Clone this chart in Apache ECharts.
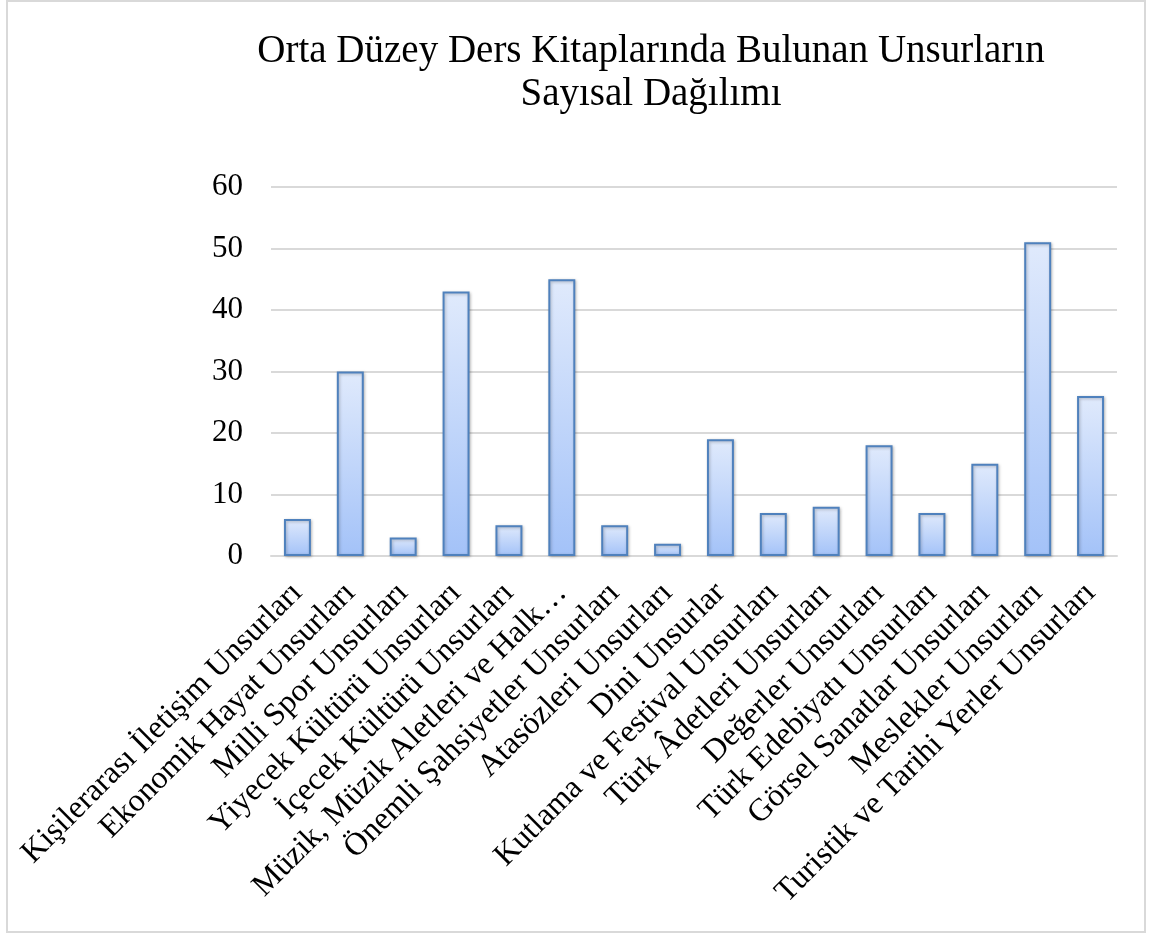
<!DOCTYPE html>
<html>
<head>
<meta charset="utf-8">
<script src="https://cdn.jsdelivr.net/npm/echarts@6/dist/echarts.min.js"></script>
<style>
html,body{margin:0;padding:0;background:#fff;}
#c{width:1150px;height:936px;}
</style>
</head>
<body>
<div id="c"></div>
<script>
const categories = [
  "Kişilerarası İletişim Unsurları",
  "Ekonomik Hayat Unsurları",
  "Milli Spor Unsurları",
  "Yiyecek Kültürü Unsurları",
  "İçecek Kültürü Unsurları",
  "Müzik, Müzik Aletleri ve Halk…",
  "Önemli Şahsiyetler Unsurları",
  "Atasözleri Unsurları",
  "Dini Unsurlar",
  "Kutlama ve Festival Unsurları",
  "Türk Âdetleri Unsurları",
  "Değerler Unsurları",
  "Türk Edebiyatı Unsurları",
  "Görsel Sanatlar Unsurları",
  "Meslekler Unsurları",
  "Turistik ve Tarihi Yerler Unsurları"
];
const values = [6, 30, 3, 43, 5, 45, 5, 2, 19, 7, 8, 18, 7, 15, 51, 26];
const titleText = "Orta Düzey Ders Kitaplarında Bulunan Unsurların\nSayısal Dağılımı";

const serif = "'Liberation Serif', 'DejaVu Serif', serif";
const chart = echarts.init(document.getElementById('c'), null, {renderer: 'canvas'});
chart.setOption({
  backgroundColor: '#ffffff',
  animation: false,
  graphic: [{
    type: 'rect',
    shape: {x: 7, y: 1, width: 1138, height: 931},
    style: {fill: 'none', stroke: '#d9d9d9', lineWidth: 2},
    silent: true
  }],
  title: {
    text: titleText,
    left: 646,
    textAlign: 'center',
    top: 25,
    textStyle: {
      fontFamily: serif,
      fontSize: 39,
      fontWeight: 'normal',
      color: '#000',
      lineHeight: 43
    }
  },
  grid: {left: 271, right: 33, top: 187, bottom: 380, containLabel: false},
  xAxis: {
    type: 'category',
    data: categories,
    axisLine: {show: true, lineStyle: {color: '#d9d9d9', width: 2}},
    axisTick: {show: false},
    axisLabel: {
      interval: 0,
      rotate: 45,
      margin: 32,
      fontFamily: serif,
      fontSize: 32,
      color: '#000'
    }
  },
  yAxis: {
    type: 'value',
    min: 0,
    max: 60,
    interval: 10,
    axisLine: {show: false},
    axisTick: {show: false},
    splitLine: {lineStyle: {color: '#d9d9d9', width: 2}},
    axisLabel: {
      margin: 28,
      fontFamily: serif,
      fontSize: 31,
      color: '#000'
    }
  },
  series: [{
    type: 'bar',
    data: values,
    barWidth: '51%',
    itemStyle: {
      color: new echarts.graphic.LinearGradient(0, 0, 0, 1, [
        {offset: 0, color: '#e0eafc'},
        {offset: 1, color: '#a3c2f8'}
      ]),
      borderColor: '#4f81bd',
      borderWidth: 2,
      shadowColor: 'rgba(0,0,0,0.25)',
      shadowBlur: 3,
      shadowOffsetX: 1,
      shadowOffsetY: 1
    }
  }]
});
</script>
</body>
</html>
